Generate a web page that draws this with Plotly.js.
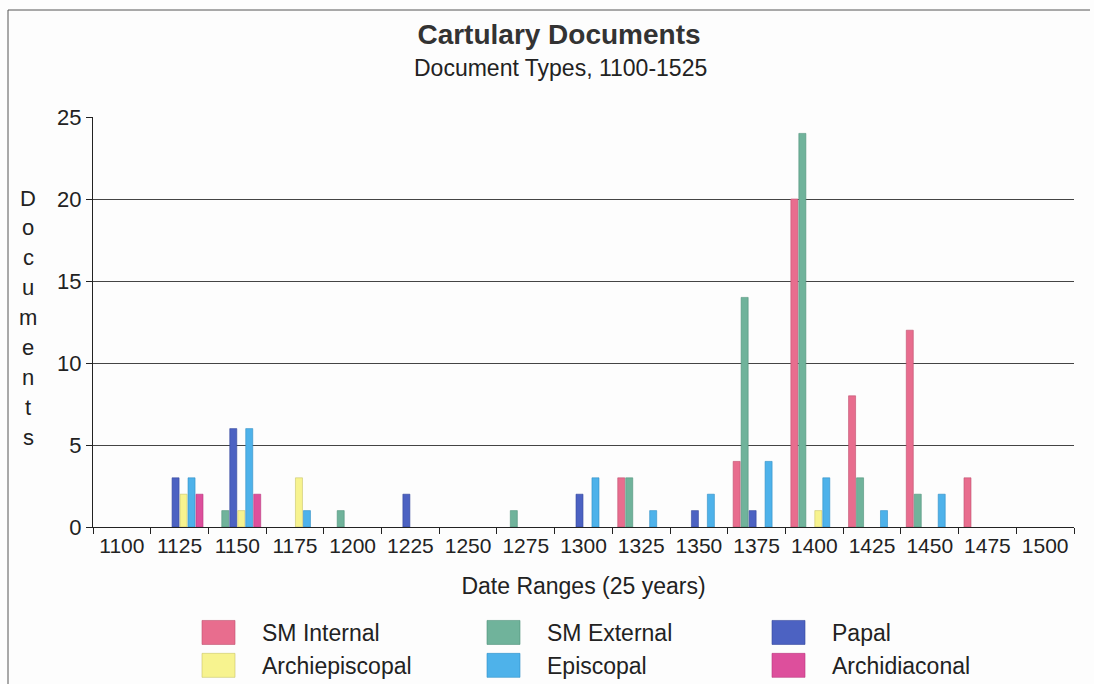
<!DOCTYPE html>
<html>
<head>
<meta charset="utf-8">
<script src="https://cdn.plot.ly/plotly-3.0.1.min.js"></script>
<style>html,body{margin:0;padding:0;background:#fdfdfd;}#chart{width:1094px;height:684px;}</style>
</head>
<body>
<div id="chart"></div>
<script>
// Data
const categories = ["1100","1125","1150","1175","1200","1225","1250","1275","1300","1325","1350","1375","1400","1425","1450","1475","1500"];
const smInternal    = [0,0,0,0,0,0,0,0,0,3,0,4,20,8,12,3,0];
const smExternal    = [0,0,1,0,1,0,0,1,0,3,0,14,24,3,2,0,0];
const papal         = [0,3,6,0,0,2,0,0,2,0,1,1,0,0,0,0,0];
const archiepiscopal= [0,2,1,3,0,0,0,0,0,0,0,0,1,0,0,0,0];
const episcopal     = [0,3,6,1,0,0,0,0,3,1,2,4,3,1,2,0,0];
const archidiaconal = [0,2,2,0,0,0,0,0,0,0,0,0,0,0,0,0,0];
const seriesNames = ["SM Internal","SM External","Papal","Archiepiscopal","Episcopal","Archidiaconal"];
const yTicks = [0,5,10,15,20,25];

const seriesValues = [smInternal, smExternal, papal, archiepiscopal, episcopal, archidiaconal];
const colors = ["#e86d8e","#70b39b","#4c62c2","#f7f38f","#4eb2ea","#dd4f9c"];
const lineColors = ["#c0506e","#4f927a","#34479c","#c9c46a","#2f8fc6","#b8377d"];

const traces = seriesValues.map((vals,i)=>({
  type:'bar', name: seriesNames[i], x: categories, y: vals.map(v => v === 0 ? null : v),
  marker:{color: colors[i], line:{color: lineColors[i], width:0.6}},
  hoverinfo:'x+y+name'
}));

const FONT = "Liberation Sans, Arial, sans-serif";
// px -> paper helpers (plot area: x 93..1074, y 117..527)
const L=93, R=1074, T=117, B=527;
const px = p => (p-L)/(R-L);
const py = p => (B-p)/(B-T);

const annotations = [
  {text:"Document Types, 1100-1525", xref:'paper', yref:'paper', x:px(560), y:py(68),
   xanchor:'center', yanchor:'middle', showarrow:false, font:{family:FONT, size:23, color:'#222'}}
];
const letters = "Documents".split("");
letters.forEach((ch,i)=>{
  annotations.push({text:ch, xref:'paper', yref:'paper', x:px(28), y:py(198+29.9*i),
    xanchor:'center', yanchor:'middle', showarrow:false, font:{family:FONT, size:22, color:'#222'}});
});

const layout = {
  width:1094, height:684,
  paper_bgcolor:'#fdfdfd', plot_bgcolor:'rgba(0,0,0,0)',
  margin:{l:L, r:1094-R, t:T, b:684-B, pad:0, autoexpand:false},
  font:{family:FONT, size:23, color:'#222'},
  title:{text:"<b>Cartulary Documents</b>", x:559/1094, xanchor:'center', y:1-34/684, yanchor:'middle',
    font:{family:FONT, size:28, color:'#333'}},
  barmode:'group', bargap:0.17, bargroupgap:0.12,
  xaxis:{type:'category', showline:true, linecolor:'#222', linewidth:1,
    ticks:'outside', tickson:'boundaries', ticklen:6, tickcolor:'#222', tickangle:0,
    showgrid:false, tickfont:{family:FONT, size:21, color:'#222'},
    title:{text:"Date Ranges (25 years)", standoff:21, font:{family:FONT, size:23, color:'#222'}},
    fixedrange:true},
  yaxis:{range:[0,25], tickvals:yTicks, showline:true, linecolor:'#222', linewidth:1,
    ticks:'outside', ticklen:6, tickcolor:'#222', zeroline:false,
    showgrid:true, gridcolor:'#444', gridwidth:1,
    tickfont:{family:FONT, size:22, color:'#222'}, fixedrange:true},
  showlegend:true,
  legend:{orientation:'h', x:px(222), xanchor:'left', y:py(611), yanchor:'top',
    entrywidth:240, entrywidthmode:'pixels', traceorder:'normal',
    font:{family:FONT, size:23, color:'#222'}, bgcolor:'rgba(0,0,0,0)'},
  annotations: annotations,
  shapes:[
    {type:'line', xref:'paper', yref:'paper', x0:px(8), x1:px(1090), y0:py(10), y1:py(10), line:{color:'#555', width:1}},
    {type:'line', xref:'paper', yref:'paper', x0:px(8), x1:px(8), y0:py(10), y1:py(690), line:{color:'#555', width:1}}
  ]
};

Plotly.newPlot('chart', traces, layout, {displayModeBar:false, staticPlot:true}).then(gd => {
  // let the widened swatches extend past the legend box, then enlarge them
  gd.querySelectorAll('.legend, .legend *').forEach(el => el.removeAttribute('clip-path'));
  gd.querySelectorAll('.legend .legendpoints path').forEach(p => {
    p.setAttribute('d', 'M-40,-12H-7V12H-40Z');
  });
});
</script>
</body>
</html>
